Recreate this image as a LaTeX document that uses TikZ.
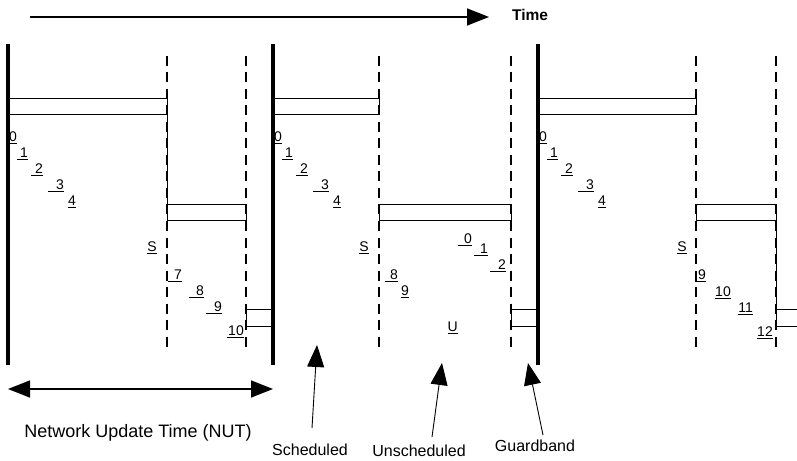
\documentclass[tikz,border=0pt]{standalone}
\usepackage{fontspec}
\setmainfont{Liberation Sans}
\usetikzlibrary{arrows.meta}
\newcommand\ulab[2]{\underline{\hspace*{#1bp}#2}}
\begin{document}
\begin{tikzpicture}[x=1bp,y=-1bp,
  bar/.style={line width=3.5bp},
  dashline/.style={line width=1.5bp, dash pattern=on 10bp off 6.5bp},
  boxline/.style={line width=0.9bp},
  num/.style={inner sep=0pt, anchor=base east, font=\fontsize{14bp}{16bp}\selectfont},
  lbl/.style={inner sep=0pt, anchor=base, font=\fontsize{16bp}{18bp}\selectfont},
  bighead/.style={-{Triangle[length=22bp,width=17bp]}},
  ptr/.style={line width=0.9bp, bighead},
]
\useasboundingbox (0,0) rectangle (797,461);

% time axis
\coordinate (t0) at (30,17);
\coordinate (t1) at (489,17);
\draw[line width=1.5bp, bighead] (t0) -- (t1);
\node[inner sep=0pt, anchor=base west, font=\fontsize{15.5bp}{18bp}\selectfont\bfseries] (time) at (512,21) {Time};

% dashed boundaries (scheduled/unscheduled)
\foreach \d in {167,379,696}{
  \draw[dashline] (\d,56) -- (\d,350);
}

% periods
\foreach \p/\x in {1/8,2/273,3/538}{
  \draw[bar] (\x,44) -- (\x,365);
  \draw[dashline] (\x+238,56) -- (\x+238,350);
  \node[num] (a\p0) at (\x+9,142) {\ulab{0}{0}};
  \node[num] (a\p1) at (\x+20,158) {\ulab{3}{1}};
  \node[num] (a\p2) at (\x+35,174) {\ulab{4}{2}};
  \node[num] (a\p3) at (\x+56,190) {\ulab{8}{3}};
  \node[num] (a\p4) at (\x+68,206) {\ulab{0}{4}};
}

% boxes period 1
\draw[boxline] (8,98) rectangle (167,114);
\draw[boxline] (167,114) -- (167,204);
\draw[boxline] (167,204) rectangle (246,220);
\draw[boxline] (246,309) rectangle (273,326);
% boxes period 2
\draw[boxline] (273,98) rectangle (379,114);
\draw[boxline] (379,204) rectangle (511,220);
\draw[boxline] (511,309) rectangle (538,326);
% boxes period 3
\draw[boxline] (538,98) rectangle (696,114);
\draw[boxline] (696,204) rectangle (776,220);
\draw[boxline] (776,220) -- (776,309);
\draw[boxline] (797,309) -- (776,309) -- (776,326) -- (797,326);

% period 1 labels
\node[num] (s1) at (157,252) {\ulab{0}{S}};
\node[num] (b17) at (182,280) {\ulab{6}{7}};
\node[num] (b18) at (204,296) {\ulab{7}{8}};
\node[num] (b19) at (222,312) {\ulab{8}{9}};
\node[num] (b110) at (244,336) {\ulab{1}{10}};

% period 2 labels
\node[num] (s2) at (369,252) {\ulab{0}{S}};
\node[num] (b28) at (398,280) {\ulab{5}{8}};
\node[num] (b29) at (409,296) {\ulab{0}{9}};
\node[num] (u0) at (472,244) {\ulab{6}{0}};
\node[num] (u1) at (488,254) {\ulab{6}{1}};
\node[num] (u2) at (506,270) {\ulab{8}{2}};
\node[num] (uU) at (458,332) {\ulab{0}{U}};

% period 3 labels
\node[num] (s3) at (687,252) {\ulab{0}{S}};
\node[num] (b39) at (706,280) {\ulab{3}{9}};
\node[num] (b310) at (731,297) {\ulab{0}{10}};
\node[num] (b311) at (753,313) {\ulab{0}{11}};
\node[num] (b312) at (773,337) {\ulab{0}{12}};

% NUT
\coordinate (n0) at (8,389);
\coordinate (n1) at (273,389);
\draw[line width=1.5bp, {Triangle[length=22bp,width=17bp]}-{Triangle[length=22bp,width=17bp]}] (n0) -- (n1);
\node[inner sep=0pt, anchor=base, font=\fontsize{18bp}{20bp}\selectfont] (nut) at (138,437) {Network Update Time (NUT)};

% bottom labels and pointers
\node[lbl] (sch) at (310,455) {Scheduled};
\node[lbl] (uns) at (419,456) {Unscheduled};
\node[lbl] (grd) at (535,451) {Guardband};
\coordinate (schT) at (312,428);
\coordinate (schH) at (317,345);
\coordinate (unsT) at (432,437);
\coordinate (unsH) at (442,363);
\coordinate (grdT) at (543,435);
\coordinate (grdH) at (528,363);
\draw[ptr] (schT) -- (schH);
\draw[ptr] (unsT) -- (unsH);
\draw[ptr] (grdT) -- (grdH);
\end{tikzpicture}
\end{document}
